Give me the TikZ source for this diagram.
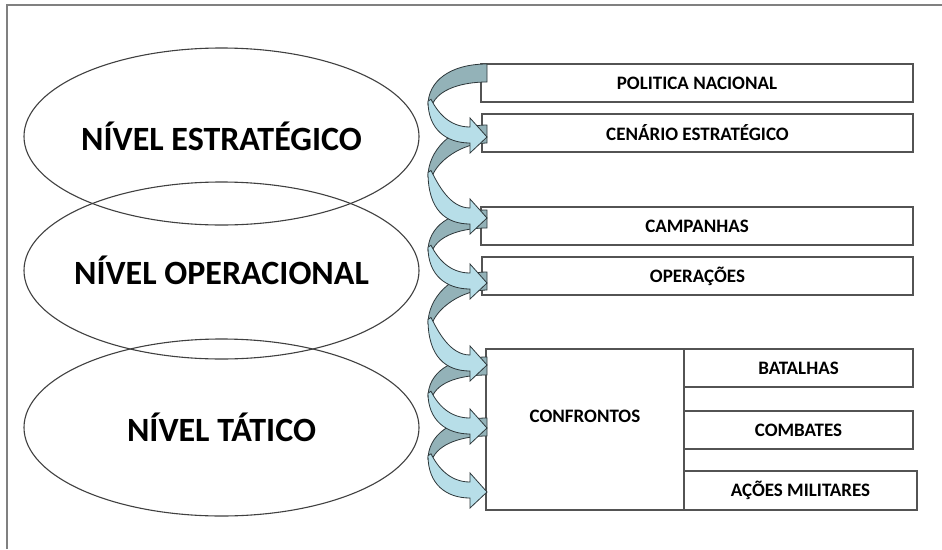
\documentclass[tikz,border=0pt]{standalone}
\usepackage{fontspec}
\setmainfont{Carlito}
\usetikzlibrary{shapes.geometric}

\definecolor{w}{RGB}{255,255,255}
\definecolor{moldura}{RGB}{128,128,128}
\definecolor{contorno}{RGB}{64,64,64}
\definecolor{escuro}{RGB}{147,178,184}
\definecolor{claro}{RGB}{183,222,232}
\definecolor{linhaseta}{RGB}{45,55,58}

% curved arrow: #1 top of the tail, #2 tip (both in px, y down)
\newcommand{\setaCurva}[2]{%
    \pgfmathsetmacro{\ya}{#1}
    \pgfmathsetmacro{\yt}{#2}
    \pgfmathsetmacro{\ym}{#1+0.51*(#2-#1)}
    \filldraw[costas] (487,\ya) .. controls (450,\ya) and (428,\ym-20) .. (428,\ym+4)
        -- (432,\ym+4) .. controls (438,\ym-12) and (462,\ya+18) .. (487,\ya+18) -- cycle;
    \filldraw[frente] (428,\ym) .. controls (428,\yt-8) and (446,\yt+6) .. (470,\yt+6)
        -- (470,\yt+16) -- (487,\yt) -- (470,\yt-19) -- (470,\yt-10)
        .. controls (450,\yt-10) and (438,\ym+12) .. (431,\ym-2) -- cycle;
}

\begin{document}
\begin{tikzpicture}[
        x=1pt, y=-1pt,
        nivel/.style={ellipse, draw=contorno, line width=1.1pt,
            inner xsep=-25pt, inner ysep=0pt,
            minimum width=395pt, minimum height=177pt,
            font=\bfseries\fontsize{34}{37}\selectfont},
        texto/.style={font=\bfseries\fontsize{19}{21}\selectfont},
        caixa/.style={rectangle, draw=contorno!90, line width=1.4pt, inner sep=0pt,
            minimum height=38pt, texto},
        costas/.style={draw=linhaseta, line width=0.8pt, fill=escuro},
        frente/.style={draw=linhaseta, line width=0.8pt, fill=claro},
    ]
    \useasboundingbox (0,0) rectangle (942,549);
    \fill[w] (0,0) rectangle (942,549);
    \draw[moldura, line width=1.8pt] (7,549) -- (7,5) -- (942,5);

    \node[nivel] (estrategico) at (221.5,136.5) {NÍVEL ESTRATÉGICO};
    \node[nivel] (operacional) at (221.5,270.5) {NÍVEL OPERACIONAL};
    \node[nivel] (tatico) at (221.5,427.5) {NÍVEL TÁTICO};

    \node[caixa, minimum width=432pt] (politica) at (697,83) {POLITICA NACIONAL};
    \node[caixa, minimum width=431pt] (cenario) at (697.5,133) {CENÁRIO ESTRATÉGICO};
    \node[caixa, minimum width=432pt] (campanhas) at (697,226) {CAMPANHAS};
    \node[caixa, minimum width=431pt] (operacoes) at (697.5,276) {OPERAÇÕES};
    \node[caixa, minimum width=198pt, minimum height=161pt,
        label={[texto, yshift=13pt]center:CONFRONTOS}] (confrontos) at (585,429.5) {};
    \node[caixa, minimum width=229pt] (batalhas) at (798.5,368) {BATALHAS};
    \node[caixa, minimum width=229pt] (combates) at (798.5,430) {COMBATES};
    \node[caixa, minimum width=233pt, minimum height=39pt] (acoes) at (800.5,490.5) {AÇÕES MILITARES};

    \setaCurva{418}{492}
    \setaCurva{357}{428}
    \setaCurva{272}{365}
    \setaCurva{210}{283}
    \setaCurva{125}{218}
    \setaCurva{64}{137}
\end{tikzpicture}
\end{document}
